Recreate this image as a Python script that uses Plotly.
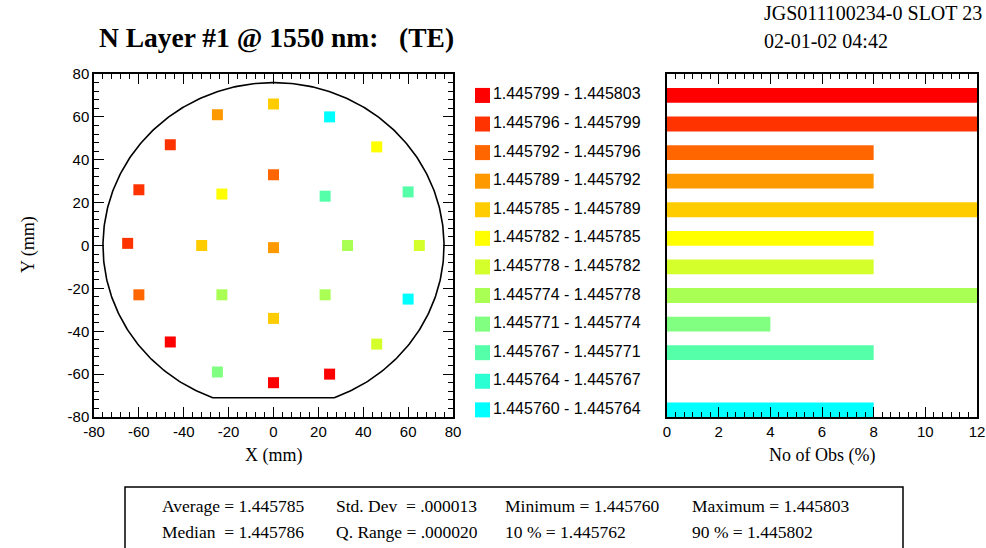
import numpy as np
import plotly.graph_objects as go

# ---------------- data ----------------
title_text = "N Layer #1 @ 1550 nm:   (TE)"
wafer_id = "JGS011100234-0 SLOT 23"
timestamp = "02-01-02 04:42"

site_x = [0, -25, 25, -46, 46, 0, -60, -23, 23, 60, -65, -32, 0, 33, 65,
          -60, -23, 23, 60, 0, -46, 46, -25, 25, 0]
site_y = [66, 61, 60, 47, 46, 33, 26, 24, 23, 25, 1, 0, -1, 0, 0,
          -23, -23, -23, -25, -34, -45, -46, -59, -60, -64]
site_n = [1.445787, 1.445790, 1.445760, 1.445798, 1.445784, 1.445794, 1.445797,
          1.445783, 1.445769, 1.445768, 1.445797, 1.445786, 1.445791, 1.445776,
          1.445780, 1.445793, 1.445775, 1.445776, 1.445762, 1.445786, 1.445800,
          1.445779, 1.445772, 1.445802, 1.445803]

# bins, bottom (lowest) to top (highest)
bin_labels = ["1.445760 - 1.445764", "1.445764 - 1.445767", "1.445767 - 1.445771",
              "1.445771 - 1.445774", "1.445774 - 1.445778", "1.445778 - 1.445782",
              "1.445782 - 1.445785", "1.445785 - 1.445789", "1.445789 - 1.445792",
              "1.445792 - 1.445796", "1.445796 - 1.445799", "1.445799 - 1.445803"]
bin_colors = ["#00FFFF", "#2AFFD4", "#55FFAA", "#80FF80", "#AAFF55", "#D4FF2A",
              "#FFFF00", "#FFCC00", "#FF9900", "#FF6600", "#FF3300", "#FF0000"]
obs_pct = [8, 0, 8, 4, 12, 8, 8, 12, 8, 8, 12, 12]

mm_ticks = [-80, -60, -40, -20, 0, 20, 40, 60, 80]
mm_tick_labels = ["-80", "-60", "-40", "-20", "0", "20", "40", "60", "80"]

stats_row1 = ["Average = 1.445785", "Std. Dev  = .000013", "Minimum = 1.445760", "Maximum = 1.445803"]
stats_row2 = ["Median  = 1.445786", "Q. Range = .000020", "10 % = 1.445762", "90 % = 1.445802"]

n_min, n_max = 1.445760, 1.445803
wafer_r = 76.0
flat_y = -71.0

# ---------------- helpers ----------------
W, H = 986, 548
def px(x):
    return x / W
def py(y):
    return 1 - y / H

edges = np.linspace(n_min, n_max, len(bin_labels) + 1)
idx = np.clip(np.digitize(site_n, edges) - 1, 0, len(bin_labels) - 1)
site_colors = [bin_colors[i] for i in idx]

# wafer outline (circle with bottom flat)
t0 = np.arcsin(flat_y / wafer_r)
t = np.linspace(t0, np.pi - t0, 400)
cx = wafer_r * np.cos(t)
cy = wafer_r * np.sin(t)
cx = np.append(cx, cx[0])
cy = np.append(cy, cy[0])

serif = "Liberation Serif"
sans = "Liberation Sans"

fig = go.Figure()

fig.add_trace(go.Scatter(x=cx, y=cy, mode="lines", line=dict(color="black", width=1.6),
                         xaxis="x", yaxis="y", hoverinfo="skip", showlegend=False))
fig.add_trace(go.Scatter(x=site_x, y=site_y, mode="markers",
                         marker=dict(symbol="square", size=11, color=site_colors, line=dict(width=0)),
                         xaxis="x", yaxis="y", showlegend=False))

ypos = list(range(len(bin_labels)))
fig.add_trace(go.Bar(x=obs_pct, y=ypos, orientation="h", width=0.52,
                     marker=dict(color=bin_colors, line=dict(width=0)),
                     xaxis="x2", yaxis="y2", showlegend=False))

fig.add_trace(go.Scatter(x=[12.5] * len(bin_labels), y=ypos, mode="markers+text",
                         text=bin_labels, textposition="middle right",
                         textfont=dict(family=sans, size=16, color="black"),
                         marker=dict(symbol="square", size=15, color=bin_colors, line=dict(width=0)),
                         xaxis="x3", yaxis="y2", showlegend=False, cliponaxis=False))

ydom = [py(417), py(74)]
tickfont = dict(family=sans, size=15, color="black")
common = dict(showline=True, linecolor="black", linewidth=1.5, mirror="ticks",
              ticks="inside", ticklen=10, tickcolor="black", tickwidth=1,
              showgrid=False, zeroline=False, tickfont=tickfont, automargin=False,
              ticklabeloverflow="allow")

fig.update_layout(
    width=W, height=H,
    margin=dict(l=0, r=0, t=0, b=0),
    paper_bgcolor="white", plot_bgcolor="white",
    xaxis=dict(domain=[px(94), px(453)], range=[-80, 80], tickvals=mm_ticks, ticktext=mm_tick_labels,
               anchor="y", minor=dict(dtick=4, ticks="inside", ticklen=5, tickcolor="black"), **common),
    yaxis=dict(domain=ydom, range=[-80, 80], tickvals=mm_ticks, ticktext=mm_tick_labels, anchor="x",
               minor=dict(dtick=4, ticks="inside", ticklen=5, tickcolor="black"), **common),
    xaxis2=dict(domain=[px(667), px(977)], range=[0, 12], dtick=2, anchor="y2",
                minor=dict(dtick=2 / 6, ticks="inside", ticklen=5, tickcolor="black"), **common),
    yaxis2=dict(domain=ydom, range=[-0.25, 11.75], anchor="x2", showline=True, linecolor="black",
                linewidth=1.5, mirror=True, ticks="", showticklabels=False, showgrid=False,
                zeroline=False, automargin=False),
    xaxis3=dict(domain=[px(470), px(660)], range=[0, 190], anchor="y2", visible=False,
                automargin=False),
)

def ann(text, x, y, size, family=serif, **kw):
    d = dict(text=text, x=px(x), y=py(y), xref="paper", yref="paper",
             xanchor=kw.pop("xanchor", "left"), yanchor="middle",
             font=dict(family=family, size=size, color="black"), showarrow=False)
    d.update(kw)
    return d

annotations = [
    ann("<b>" + title_text.replace("  ", "&nbsp; ") + "</b>", 97, 38, 27.5),
    ann(wafer_id, 762, 13, 20),
    ann(timestamp, 762, 41, 20),
    ann("Y (mm)", 28, 245, 18, xanchor="center", textangle=-90),
    ann("X (mm)", 274, 455, 18, xanchor="center"),
    ann("No of Obs (%)", 822, 455, 18, xanchor="center"),
]
stat_cols = [160, 334, 503, 690]
for text, x in zip(stats_row1, stat_cols):
    annotations.append(ann(text.replace("  ", "&nbsp; "), x, 506, 17.5))
for text, x in zip(stats_row2, stat_cols):
    annotations.append(ann(text.replace("  ", "&nbsp; "), x, 532, 17.5))
fig.update_layout(annotations=annotations)

fig.add_shape(type="rect", xref="paper", yref="paper", x0=px(125), x1=px(903), y0=py(560), y1=py(487),
              line=dict(color="black", width=1.5), fillcolor="rgba(0,0,0,0)")

fig.write_html("out.html", config={"displayModeBar": False},
               post_script="document.body.style.margin='0px';")
